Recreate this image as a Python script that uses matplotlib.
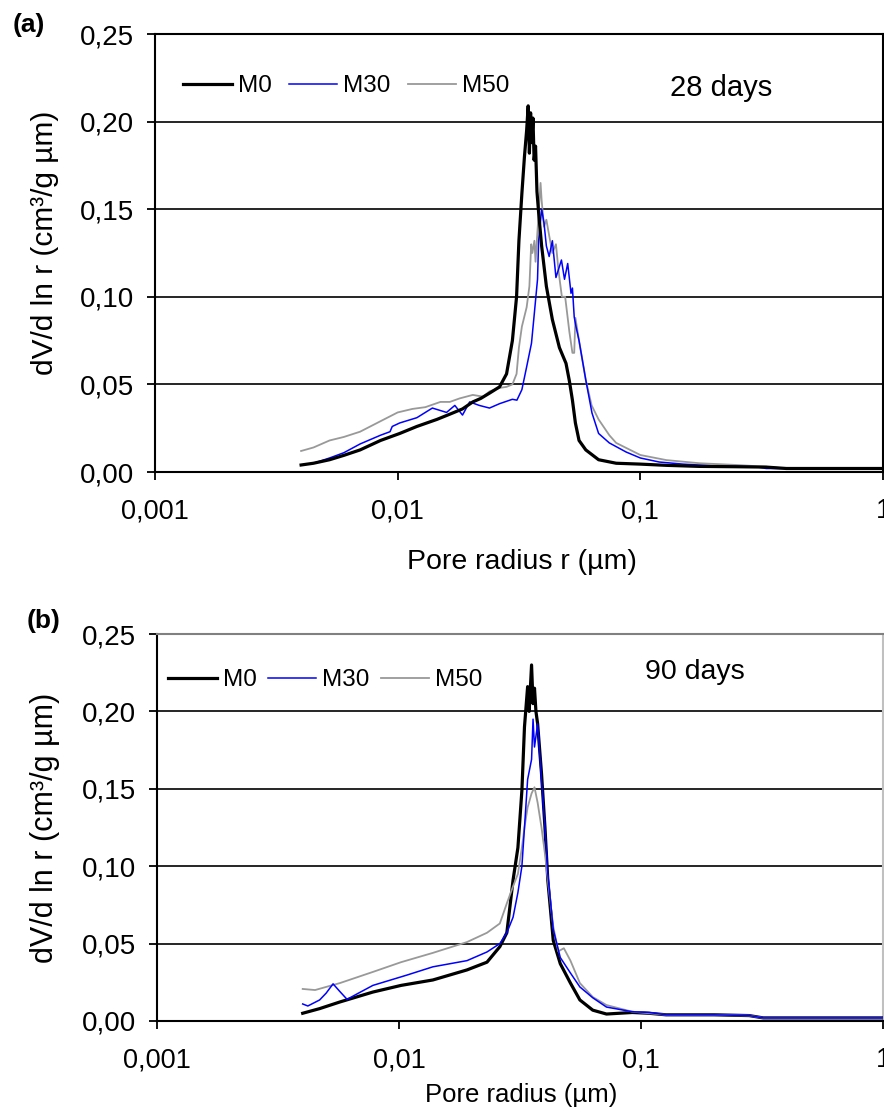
import matplotlib
matplotlib.use("Agg")
import matplotlib.pyplot as plt
from matplotlib.ticker import FixedLocator, FixedFormatter

plt.rcParams['font.family'] = ['Liberation Sans', 'DejaVu Sans']

# ---- panel (a), 28 days ----
r_m0_a = [0.004, 0.0045, 0.00524, 0.006, 0.007, 0.0085, 0.0102, 0.012, 0.0145, 0.0164,
          0.0185, 0.0204, 0.022, 0.0239, 0.0263, 0.0281, 0.0297, 0.0309, 0.0316, 0.0325,
          0.0333, 0.034, 0.0345, 0.0349, 0.0353, 0.0357, 0.0361, 0.0365, 0.037, 0.0375,
          0.0381, 0.0392, 0.041, 0.0434, 0.0464, 0.0494, 0.051, 0.0525, 0.054, 0.0559,
          0.0596, 0.0673, 0.0795, 0.1, 0.128, 0.175, 0.25, 0.33, 0.4, 1.0]
v_m0_a = [0.004, 0.005, 0.007, 0.0095, 0.0126, 0.018, 0.022, 0.026, 0.030, 0.033,
          0.036, 0.040, 0.042, 0.045, 0.0486, 0.056, 0.075, 0.100, 0.132, 0.159,
          0.180, 0.195, 0.209, 0.182, 0.205, 0.188, 0.202, 0.178, 0.186, 0.160,
          0.148, 0.129, 0.106, 0.087, 0.071, 0.062, 0.052, 0.041, 0.028, 0.018,
          0.0126, 0.007, 0.005, 0.0045, 0.0038, 0.0032, 0.003, 0.0028, 0.002, 0.002]

r_m30_a = [0.004, 0.0045, 0.00524, 0.006, 0.007, 0.0085, 0.0093, 0.0095, 0.0102, 0.012,
           0.0139, 0.0159, 0.0172, 0.0185, 0.0198, 0.0217, 0.0239, 0.0263, 0.0297, 0.031,
           0.0325, 0.034, 0.0356, 0.0366, 0.0377, 0.0381, 0.0392, 0.0401, 0.041, 0.0421,
           0.0434, 0.0449, 0.0473, 0.0487, 0.0502, 0.0518, 0.0525, 0.0534, 0.0543, 0.0559,
           0.0596, 0.0632, 0.0673, 0.0745, 0.0874, 0.1, 0.1196, 0.15, 0.2, 0.3, 0.33, 1.0]
v_m30_a = [0.004, 0.005, 0.008, 0.011, 0.016, 0.021, 0.023, 0.026, 0.028, 0.031,
           0.0365, 0.034, 0.038, 0.0325, 0.040, 0.038, 0.0365, 0.039, 0.0415, 0.041,
           0.047, 0.060, 0.0735, 0.091, 0.110, 0.132, 0.150, 0.142, 0.129, 0.123,
           0.132, 0.111, 0.121, 0.110, 0.119, 0.102, 0.105, 0.0885, 0.083, 0.075,
           0.0525, 0.0337, 0.022, 0.0166, 0.0114, 0.008, 0.0057, 0.0045, 0.0035, 0.003, 0.002, 0.002]

r_m50_a = [0.004, 0.0045, 0.00524, 0.006, 0.007, 0.0085, 0.01, 0.0115, 0.013, 0.015,
           0.0164, 0.018, 0.0204, 0.0225, 0.0239, 0.0263, 0.0281, 0.0297, 0.0309, 0.0316,
           0.0325, 0.034, 0.0349, 0.0355, 0.0359, 0.0366, 0.037, 0.0381, 0.0388, 0.0392,
           0.0401, 0.041, 0.0421, 0.0434, 0.0449, 0.046, 0.0475, 0.049, 0.051, 0.0525,
           0.0534, 0.054, 0.0559, 0.0596, 0.063, 0.0673, 0.0745, 0.0795, 0.1, 0.128,
           0.175, 0.25, 0.33, 0.4, 1.0]
v_m50_a = [0.012, 0.014, 0.018, 0.020, 0.023, 0.029, 0.034, 0.036, 0.037, 0.040,
           0.040, 0.042, 0.044, 0.043, 0.046, 0.048, 0.0486, 0.050, 0.056, 0.071,
           0.083, 0.094, 0.106, 0.130, 0.125, 0.132, 0.120, 0.148, 0.165, 0.155,
           0.140, 0.144, 0.135, 0.125, 0.130, 0.115, 0.100, 0.100, 0.080, 0.068,
           0.068, 0.088, 0.075, 0.0525, 0.038, 0.030, 0.021, 0.0166, 0.0097, 0.0068,
           0.005, 0.004, 0.003, 0.002, 0.002]

# ---- panel (b), 90 days ----
r_m0_b = [0.004, 0.0047, 0.0057, 0.0078, 0.0102, 0.0138, 0.0191, 0.0231, 0.0261, 0.0279,
          0.0296, 0.031, 0.0322, 0.033, 0.034, 0.0345, 0.0353, 0.0358, 0.0363, 0.0368,
          0.0374, 0.0388, 0.0401, 0.0412, 0.0434, 0.0464, 0.0511, 0.0559, 0.0632, 0.072,
          0.092, 0.108, 0.127, 0.2, 0.28, 0.32, 1.0]
v_m0_b = [0.005, 0.008, 0.0123, 0.0187, 0.023, 0.0265, 0.033, 0.038, 0.048, 0.057,
          0.091, 0.112, 0.149, 0.190, 0.216, 0.200, 0.230, 0.205, 0.215, 0.200,
          0.192, 0.160, 0.125, 0.091, 0.052, 0.037, 0.0245, 0.0136, 0.007, 0.0045,
          0.0055, 0.005, 0.004, 0.004, 0.0035, 0.002, 0.002]

r_m30_b = [0.004, 0.0042, 0.0047, 0.005, 0.00534, 0.0057, 0.0061, 0.0068, 0.0078, 0.0108,
           0.0138, 0.0191, 0.0231, 0.0261, 0.0279, 0.0296, 0.031, 0.0322, 0.033, 0.034,
           0.0353, 0.0358, 0.0363, 0.0374, 0.0388, 0.0401, 0.0412, 0.0434, 0.0464, 0.0511,
           0.0559, 0.0632, 0.072, 0.092, 0.108, 0.127, 0.2, 0.28, 0.32, 1.0]
v_m30_b = [0.011, 0.0097, 0.0136, 0.018, 0.024, 0.019, 0.014, 0.018, 0.023, 0.0297,
           0.035, 0.039, 0.0446, 0.050, 0.057, 0.067, 0.083, 0.100, 0.125, 0.156,
           0.169, 0.195, 0.177, 0.192, 0.156, 0.125, 0.095, 0.059, 0.041, 0.031,
           0.022, 0.015, 0.009, 0.006, 0.0055, 0.004, 0.004, 0.0035, 0.002, 0.002]

r_m50_b = [0.004, 0.0045, 0.0057, 0.0078, 0.0102, 0.0138, 0.0191, 0.0231, 0.0261, 0.0279,
           0.0296, 0.031, 0.0322, 0.033, 0.034, 0.0353, 0.0363, 0.0374, 0.0388, 0.0401,
           0.0412, 0.0434, 0.0455, 0.048, 0.0511, 0.0559, 0.0632, 0.072, 0.092, 0.127,
           0.2, 0.28, 0.32, 1.0]
v_m50_b = [0.0207, 0.020, 0.0245, 0.0317, 0.038, 0.044, 0.051, 0.057, 0.063, 0.076,
           0.087, 0.095, 0.112, 0.125, 0.138, 0.147, 0.151, 0.141, 0.125, 0.108,
           0.091, 0.061, 0.045, 0.047, 0.039, 0.0245, 0.0155, 0.0103, 0.006, 0.004,
           0.004, 0.0035, 0.002, 0.002]

x_ticks = [0.001, 0.01, 0.1, 1]
x_tick_labels = ["0,001", "0,01", "0,1", "1"]
y_ticks = [0.0, 0.05, 0.10, 0.15, 0.20, 0.25]
y_tick_labels = ["0,00", "0,05", "0,10", "0,15", "0,20", "0,25"]

fig = plt.figure(figsize=(8.84, 11.12), dpi=100)
ax_a = fig.add_axes([155/884, 1-472/1112, 728/884, 438/1112])
ax_b = fig.add_axes([157/884, 1-1021/1112, 726/884, 387/1112])


def style_axes(ax):
    ax.set_xscale('log')
    ax.set_xlim(0.001, 1)
    ax.set_ylim(0, 0.25)
    ax.xaxis.set_major_locator(FixedLocator(x_ticks))
    ax.xaxis.set_major_formatter(FixedFormatter(x_tick_labels))
    ax.xaxis.set_minor_locator(FixedLocator([]))
    ax.set_yticks(y_ticks)
    ax.set_yticklabels(y_tick_labels)
    for y in y_ticks[1:-1]:
        ax.axhline(y, color='black', lw=1.2, zorder=1)
    ax.tick_params(axis='y', direction='out', length=6, width=1.3, labelsize=20, pad=9)
    ax.tick_params(axis='x', direction='out', length=6, width=1.3, labelsize=19.5, pad=13)
    for s in ax.spines.values():
        s.set_linewidth(1.5)


style_axes(ax_a)
l0, = ax_a.plot(r_m50_a, v_m50_a, color='#999999', lw=1.3, zorder=3)
l1, = ax_a.plot(r_m30_a, v_m30_a, color='#0000ff', lw=1.1, zorder=4)
l2, = ax_a.plot(r_m0_a, v_m0_a, color='black', lw=2.3, zorder=5)
ax_a.legend([l2, l1, l0], ["M0", "M30", "M50"], ncol=3, frameon=False, fontsize=17.5,
            loc='center left', bbox_to_anchor=(0.0385, 0.881), borderaxespad=0, borderpad=0,
            handlelength=2.0, handletextpad=0.25, columnspacing=0.7)
ax_a.text(0.707, 0.877, "28 days", transform=ax_a.transAxes, fontsize=21, va='center', ha='left')

style_axes(ax_b)
ax_b.spines['top'].set_color('#808080')
ax_b.spines['right'].set_color('#c0c0c0')
m0b, = ax_b.plot(r_m0_b, v_m0_b, color='black', lw=2.3, zorder=3)
m50b, = ax_b.plot(r_m50_b, v_m50_b, color='#999999', lw=1.3, zorder=4)
m30b, = ax_b.plot(r_m30_b, v_m30_b, color='#0000ff', lw=1.1, zorder=5)
ax_b.legend([m0b, m30b, m50b], ["M0", "M30", "M50"], ncol=3, frameon=False, fontsize=17.5,
            loc='center left', bbox_to_anchor=(0.0152, 0.881), borderaxespad=0, borderpad=0,
            handlelength=2.0, handletextpad=0.25, columnspacing=0.45)
ax_b.text(0.672, 0.902, "90 days", transform=ax_b.transAxes, fontsize=20.5, va='center', ha='left')

fig.text(45/884, 1-243/1112, "dV/d ln r (cm³/g µm)", rotation=90, fontsize=21.5,
         ha='center', va='center')
fig.text(45/884, 1-828/1112, "dV/d ln r (cm³/g µm)", rotation=90, fontsize=22,
         ha='center', va='center')
fig.text(522/884, 1-562/1112, "Pore radius r (µm)", fontsize=20.5, ha='center', va='center')
fig.text(521/884, 1-1095/1112, "Pore radius (µm)", fontsize=18.5, ha='center', va='center')
fig.text(29/884, 1-25/1112, "(a)", fontsize=19, fontweight='bold', ha='center', va='center')
fig.text(44/884, 1-621/1112, "(b)", fontsize=19, fontweight='bold', ha='center', va='center')

fig.savefig("out.png", dpi=100)
